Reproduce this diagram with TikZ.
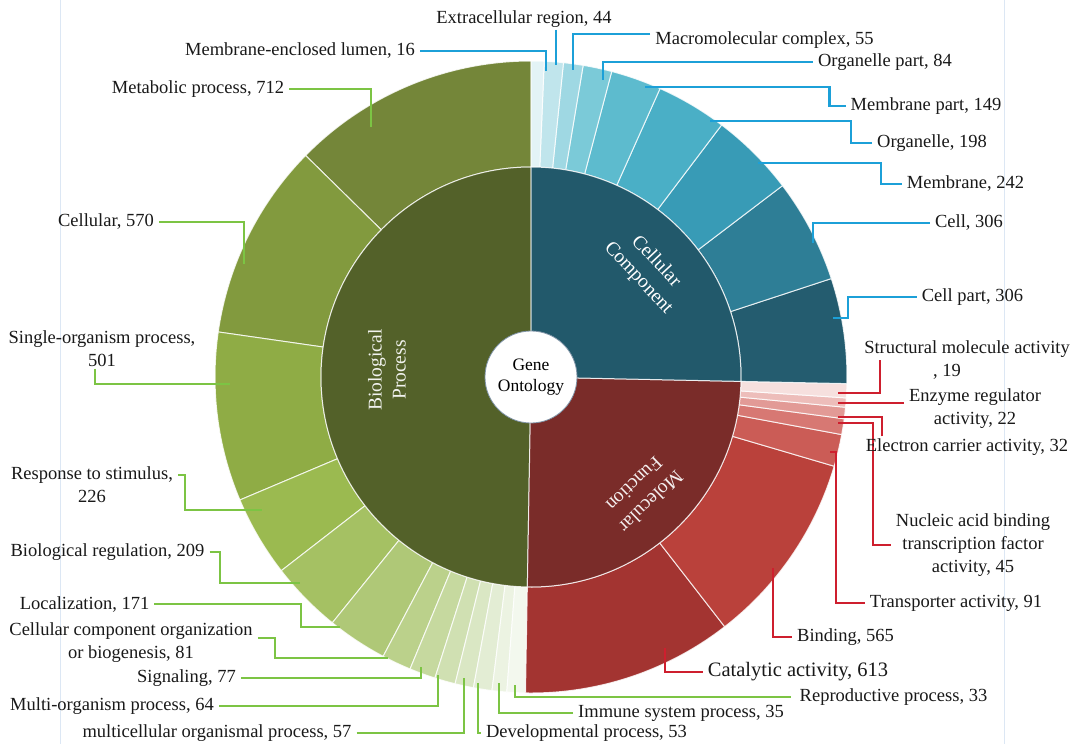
\documentclass[tikz,border=0pt]{standalone}
\usepackage{fontspec}
\setmainfont{Liberation Serif}
\definecolor{linegreen}{HTML}{7CC444}
\definecolor{lineblue}{HTML}{1CA0D8}
\definecolor{linered}{HTML}{CE1F2E}
\definecolor{framecol}{HTML}{DCE7F4}
\definecolor{circlecol}{HTML}{7F93A6}
% Biological process
\definecolor{bpin}{HTML}{536129}
\definecolor{bpA}{HTML}{748639}
\definecolor{bpB}{HTML}{829A3E}
\definecolor{bpC}{HTML}{8FAC45}
\definecolor{bpD}{HTML}{9BBA50}
\definecolor{bpE}{HTML}{A5C163}
\definecolor{bpF}{HTML}{AFC877}
\definecolor{bpG}{HTML}{BBD18B}
\definecolor{bpH}{HTML}{C6D99F}
\definecolor{bpI}{HTML}{D0E0B2}
\definecolor{bpJ}{HTML}{DAE7C4}
\definecolor{bpK}{HTML}{E3EDD4}
\definecolor{bpL}{HTML}{ECF3E2}
\definecolor{bpM}{HTML}{F3F8EE}
% Molecular function
\definecolor{mfin}{HTML}{7A2C29}
\definecolor{mfA}{HTML}{A33431}
\definecolor{mfB}{HTML}{BA413B}
\definecolor{mfC}{HTML}{CB5C56}
\definecolor{mfD}{HTML}{D77873}
\definecolor{mfE}{HTML}{E29A96}
\definecolor{mfF}{HTML}{EDBDBA}
\definecolor{mfG}{HTML}{F6E0DE}
% Cellular component
\definecolor{ccin}{HTML}{22596B}
\definecolor{ccA}{HTML}{245C6F}
\definecolor{ccB}{HTML}{2E7E96}
\definecolor{ccC}{HTML}{389BB6}
\definecolor{ccD}{HTML}{4AAFC6}
\definecolor{ccE}{HTML}{5DBBCE}
\definecolor{ccF}{HTML}{7BCAD8}
\definecolor{ccG}{HTML}{9FD8E3}
\definecolor{ccH}{HTML}{C0E5EC}
\definecolor{ccI}{HTML}{E3F3F6}
\newcommand{\ringseg}[5]{\filldraw[fill=#1, sep] (#2:#5) arc[start angle=#2, end angle=#3, radius=#5] -- (#3:#4) arc[start angle=#3, end angle=#2, radius=#4] -- cycle;}
\begin{document}
\begin{tikzpicture}[x=1pt,y=1pt,
  lab/.style={font=\fontsize{18.5}{23}\selectfont, inner xsep=5pt, inner ysep=2pt, align=center, text=black!90},
  inlab/.style={font=\fontsize{19.5}{24}\selectfont, align=center, inner sep=0pt},
  gline/.style={draw=linegreen, line width=2.1pt},
  bline/.style={draw=lineblue, line width=2.1pt},
  rline/.style={draw=linered, line width=2.1pt},
  sep/.style={draw=white, draw opacity=0.8, line width=1pt, line join=round},
]
\useasboundingbox (0,0) rectangle (1074,-744);
\fill[white] (0,0) rectangle (1074,-744);
\draw[framecol, line width=0.8pt] (60,0) -- (60,-744);
\draw[framecol, line width=0.8pt] (1004,0) -- (1004,-744);

\begin{scope}[shift={(531,-377)}]
% outer ring: Biological process
\ringseg{bpA}{90}{135.5}{210pt}{316pt}
\ringseg{bpB}{135.5}{171.8}{210pt}{316pt}
\ringseg{bpC}{171.8}{202.9}{210pt}{316pt}
\ringseg{bpD}{202.9}{217.8}{210pt}{316pt}
\ringseg{bpE}{217.8}{231.05}{210pt}{316pt}
\ringseg{bpF}{231.05}{242.1}{210pt}{316pt}
\ringseg{bpG}{242.1}{247.5}{210pt}{316pt}
\ringseg{bpH}{247.5}{252.3}{210pt}{316pt}
\ringseg{bpI}{252.3}{256.1}{210pt}{316pt}
\ringseg{bpJ}{256.1}{259.5}{210pt}{316pt}
\ringseg{bpK}{259.5}{262.9}{210pt}{316pt}
\ringseg{bpL}{262.9}{265.6}{210pt}{316pt}
\ringseg{bpM}{265.6}{269}{210pt}{316pt}
% outer ring: Molecular function
\ringseg{mfA}{269}{307.8}{210pt}{316pt}
\ringseg{mfB}{307.8}{343.6}{210pt}{316pt}
\ringseg{mfC}{343.6}{349.5}{210pt}{316pt}
\ringseg{mfD}{349.5}{352.4}{210pt}{316pt}
\ringseg{mfE}{352.4}{354.5}{210pt}{316pt}
\ringseg{mfF}{354.5}{356.2}{210pt}{316pt}
\ringseg{mfG}{356.2}{358.8}{210pt}{316pt}
% outer ring: Cellular component
\ringseg{ccA}{-1.2}{18.15}{210pt}{316pt}
\ringseg{ccB}{18.15}{37.27}{210pt}{316pt}
\ringseg{ccC}{37.27}{52.9}{210pt}{316pt}
\ringseg{ccD}{52.9}{65.9}{210pt}{316pt}
\ringseg{ccE}{65.9}{75.2}{210pt}{316pt}
\ringseg{ccF}{75.2}{80.5}{210pt}{316pt}
\ringseg{ccG}{80.5}{84.1}{210pt}{316pt}
\ringseg{ccH}{84.1}{87.6}{210pt}{316pt}
\ringseg{ccI}{87.6}{90}{210pt}{316pt}
% inner ring
\ringseg{bpin}{90}{269}{40pt}{210pt}
\ringseg{mfin}{269}{358.8}{40pt}{210pt}
\ringseg{ccin}{-1.2}{90}{40pt}{210pt}
% centre
\node[circle, draw=circlecol, fill=white, line width=0.8pt, minimum size=92pt, inner sep=0pt, align=center, font=\fontsize{17.5}{21}\selectfont] (go) at (0,0) {Gene\\Ontology};
\node[inlab, text=white!92!bpin, rotate=90] (tbp) at (-144,7) {Biological\\Process};
\node[inlab, text=white, rotate=-47] (tcc) at (116,107) {Cellular\\Component};
\node[inlab, text=white!92!mfin, rotate=224] (tmf) at (112,-116) {Molecular\\Function};
\end{scope}

% ---------- Biological process labels ----------
\node[lab] (lMet) at (198,-89) {Metabolic process, 712};
\coordinate (aMet) at (371,-127);
\draw[gline] (lMet.east) -| (aMet);
\node[lab] (lCel) at (106,-222) {Cellular, 570};
\coordinate (aCel) at (244,-264);
\draw[gline] (lCel.east) -| (aCel);
\node[lab] (lSin) at (102,-348.5) {Single-organism process,\\501};
\coordinate (aSin) at (230,-384);
\draw[gline] ([xshift=-7pt]lSin.south) |- (aSin);
\node[lab] (lRes) at (92,-484.5) {Response to stimulus,\\226};
\coordinate (aRes) at (262,-510);
\draw[gline] ([yshift=-11pt]lRes.north east) -- ++(7,0) |- (aRes);
\node[lab] (lBio) at (107.5,-552) {Biological regulation, 209};
\coordinate (aBio) at (300,-583);
\draw[gline] (lBio.east) -- ++(10,0) |- (aBio);
\node[lab] (lLoc) at (84.5,-604) {Localization, 171};
\coordinate (aLoc) at (340,-627);
\draw[gline] (lLoc.east) -- ++(147,0) |- (aLoc);
\node[lab] (lCco) at (131,-643) {Cellular component organization\\or biogenesis, 81};
\coordinate (aCco) at (388,-658);
\draw[gline] ([yshift=5pt]lCco.east) -- ++(17,0) |- (aCco);
\node[lab] (lSig) at (186.5,-678) {Signaling, 77};
\coordinate (aSig) at (421,-667);
\draw[gline] (lSig.east) -| (aSig);
\node[lab] (lMul) at (112,-706) {Multi-organism process, 64};
\coordinate (aMul) at (438,-675);
\draw[gline] (lMul.east) -| (aMul);
\node[lab] (lMcp) at (217,-733) {multicellular organismal process, 57};
\coordinate (aMcp) at (464,-678);
\draw[gline] (lMcp.east) -| (aMcp);
\node[lab] (lDev) at (586.5,-733) {Developmental process, 53};
\coordinate (aDev) at (478,-683);
\draw[gline] (lDev.west) -| (aDev);
\node[lab] (lImm) at (681,-713) {Immune system process, 35};
\coordinate (aImm) at (499,-683);
\draw[gline] (lImm.west) -| (aImm);
\node[lab, inner xsep=9pt] (lRep) at (893.5,-697) {Reproductive process, 33};
\coordinate (aRep) at (515,-685);
\draw[gline] (lRep.west) -| (aRep);

% ---------- Molecular function labels ----------
\node[lab, font=\fontsize{20.5}{24}\selectfont] (lCat) at (798,-672) {Catalytic activity, 613};
\coordinate (aCat) at (665,-648);
\draw[rline] (lCat.west) -| (aCat);
\node[lab] (lBin) at (845.5,-637) {Binding, 565};
\coordinate (aBin) at (773,-568);
\draw[rline] (lBin.west) -| (aBin);
\node[lab] (lTra) at (956,-603) {Transporter activity, 91};
\coordinate (aTra) at (830,-452);
\draw[rline] (lTra.west) -- ++(-29,0) |- (aTra);
\node[lab] (lNuc) at (973,-545) {Nucleic acid binding\\transcription factor\\activity, 45};
\coordinate (aNuc) at (838,-423);
\draw[rline] (lNuc.west) -- ++(-18,0) |- (aNuc);
\node[lab] (lEle) at (967,-447) {Electron carrier activity, 32};
\coordinate (aEle) at (838,-417);
\draw[rline] ([xshift=21pt]lEle.north west) |- (aEle);
\node[lab] (lEnz) at (975,-409) {Enzyme regulator\\activity, 22};
\coordinate (aEnz) at (838,-403);
\draw[rline] (lEnz.west |- aEnz) -- (aEnz);
\node[lab] (lStr) at (967,-360) {Structural molecule activity\\, 19\hspace*{40pt}};
\coordinate (aStr) at (838,-393);
\draw[rline] ([xshift=21pt]lStr.west) |- (aStr);

% ---------- Cellular component labels ----------
\node[lab] (lLum) at (300,-51) {Membrane-enclosed lumen, 16};
\coordinate (aLum) at (546,-71);
\draw[bline] (lLum.east) -| (aLum);
\node[lab] (lExt) at (524,-19) {Extracellular region, 44};
\coordinate (aExt) at (556,-65);
\draw[bline] (lExt.south -| aExt) -- (aExt);
\node[lab] (lMac) at (764.5,-40) {Macromolecular complex, 55};
\coordinate (aMac) at (573,-70);
\draw[bline] ([yshift=6pt]lMac.west) -| (aMac);
\node[lab] (lOrp) at (885,-62) {Organelle part, 84};
\coordinate (aOrp) at (603,-80);
\draw[bline] (lOrp.west) -| (aOrp);
\node[lab] (lMep) at (926,-106) {Membrane part, 149};
\coordinate (aMep) at (645,-87);
\draw[bline] (lMep.west) -- ++(-16,0) |- (aMep);
\node[lab] (lOrg) at (932,-143) {Organelle, 198};
\coordinate (aOrg) at (710,-121);
\draw[bline] (lOrg.west) -- ++(-21,0) |- (aOrg);
\node[lab] (lMem) at (965.5,-184) {Membrane, 242};
\coordinate (aMem) at (758,-163);
\draw[bline] (lMem.west) -- ++(-21,0) |- (aMem);
\node[lab] (lCell) at (969,-223) {Cell, 306};
\coordinate (aCell) at (813,-243);
\draw[bline] (lCell.west) -| (aCell);
\node[lab] (lCep) at (972.5,-297) {Cell part, 306};
\coordinate (aCep) at (833,-318);
\draw[bline] (lCep.west) -- ++(-69,0) |- (aCep);
\end{tikzpicture}
\end{document}
